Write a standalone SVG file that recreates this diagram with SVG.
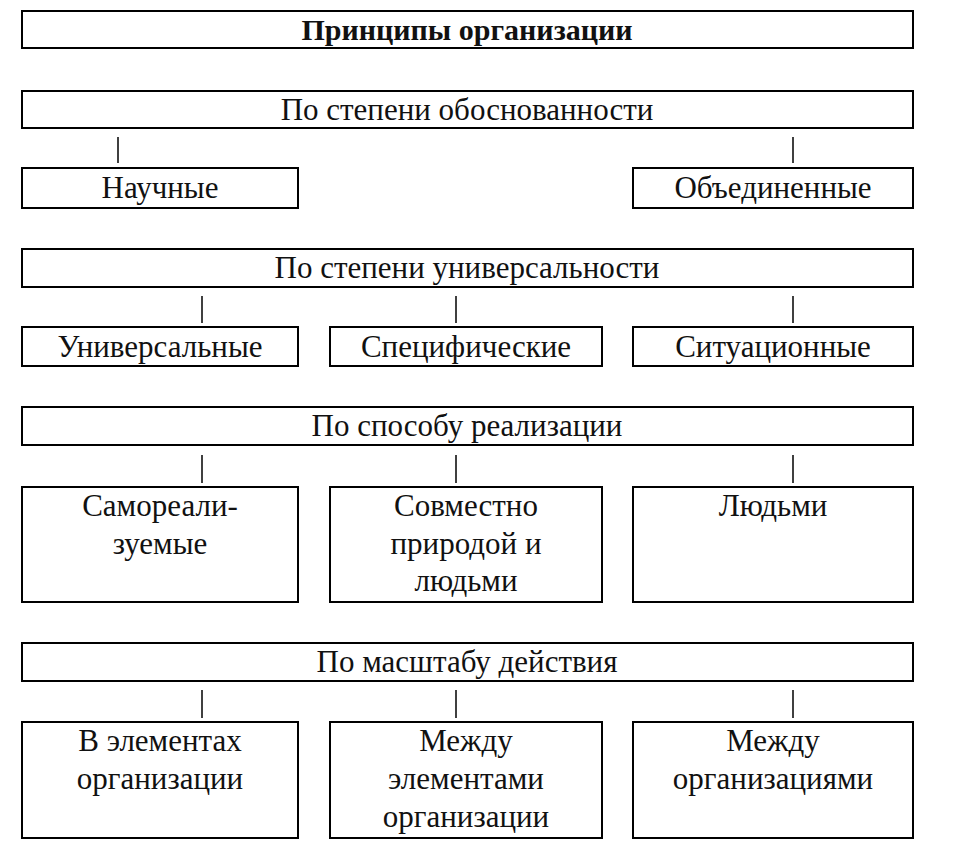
<svg xmlns="http://www.w3.org/2000/svg" width="954" height="864" viewBox="0 0 954 864">
<style>
rect{fill:#fff;stroke:#000;stroke-width:2}
text{font-family:"Liberation Serif",serif;font-size:31px;text-anchor:middle;fill:#111}
.b{font-weight:bold;font-size:30px}
line{stroke:#000;stroke-width:1.5}
</style>
<rect x="0" y="0" width="954" height="864" style="stroke:none"/>
<g id="title"><rect x="22" y="11" width="891" height="37"/><text class="b" x="467" y="40">Принципы организации</text></g>
<g id="g1"><rect x="22" y="91" width="891" height="37"/><text x="467" y="120">По степени обоснованности</text></g>
<g id="n1"><rect x="22" y="168" width="276" height="40"/><text x="160" y="198">Научные</text></g>
<g id="n2"><rect x="633" y="168" width="280" height="40"/><text x="773" y="198">Объединенные</text></g>
<g id="g2"><rect x="22" y="249" width="891" height="38"/><text x="467" y="278">По степени универсальности</text></g>
<g id="n3"><rect x="22" y="327" width="276" height="39"/><text x="160" y="357">Универсальные</text></g>
<g id="n4"><rect x="330" y="327" width="272" height="39"/><text x="466" y="357">Специфические</text></g>
<g id="n5"><rect x="633" y="327" width="280" height="39"/><text x="773" y="357">Ситуационные</text></g>
<g id="g3"><rect x="22" y="407" width="891" height="38"/><text x="467" y="436">По способу реализации</text></g>
<g id="n6"><rect x="22" y="487" width="276" height="115"/><text x="160" y="516">Самореали-</text><text x="160" y="554">зуемые</text></g>
<g id="n7"><rect x="330" y="487" width="272" height="115"/><text x="466" y="516">Совместно</text><text x="466" y="554">природой и</text><text x="466" y="591">людьми</text></g>
<g id="n8"><rect x="633" y="487" width="280" height="115"/><text x="773" y="516">Людьми</text></g>
<g id="g4"><rect x="22" y="643" width="891" height="38"/><text x="467" y="672">По масштабу действия</text></g>
<g id="n9"><rect x="22" y="722" width="276" height="116"/><text x="160" y="751">В элементах</text><text x="160" y="789">организации</text></g>
<g id="n10"><rect x="330" y="722" width="272" height="116"/><text x="466" y="751">Между</text><text x="466" y="789">элементами</text><text x="466" y="827">организации</text></g>
<g id="n11"><rect x="633" y="722" width="280" height="116"/><text x="773" y="751">Между</text><text x="773" y="789">организациями</text></g>
<g id="connectors">
<line x1="118" y1="137" x2="118" y2="163"/><line x1="793" y1="137" x2="793" y2="163"/>
<line x1="202" y1="296" x2="202" y2="323"/><line x1="456" y1="296" x2="456" y2="323"/><line x1="793" y1="296" x2="793" y2="323"/>
<line x1="202" y1="455" x2="202" y2="483"/><line x1="456" y1="455" x2="456" y2="483"/><line x1="793" y1="455" x2="793" y2="483"/>
<line x1="202" y1="690" x2="202" y2="718"/><line x1="456" y1="690" x2="456" y2="718"/><line x1="793" y1="690" x2="793" y2="718"/>
</g>
</svg>
